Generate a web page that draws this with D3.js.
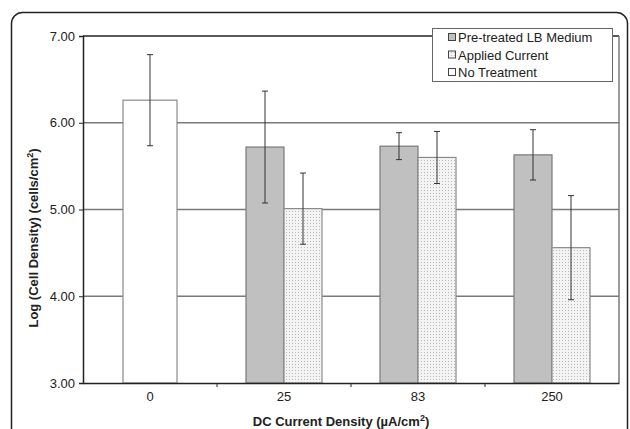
<!DOCTYPE html>
<html><head><meta charset="utf-8">
<script src="https://cdn.jsdelivr.net/npm/d3@7"></script>
<style>body{margin:0;background:#fff;}svg{display:block;font-family:"Liberation Sans",Arial,sans-serif;}</style>
</head><body>
<script>
const categories = ["0", "25", "83", "250"];
const seriesNames = ["Pre-treated LB Medium", "Applied Current", "No Treatment"];
const pretreated = [null, 5.72, 5.73, 5.63];
const pretreatedErr = [null, 0.645, 0.155, 0.29];
const applied = [null, 5.01, 5.60, 4.56];
const appliedErr = [null, 0.41, 0.30, 0.60];
const noTreatment = [6.26, null, null, null];
const noTreatmentErr = [0.525, null, null, null];
const yTicks = [3, 4, 5, 6, 7];

const W = 630, H = 429;
const svg = d3.select("body").append("svg").attr("width", W).attr("height", H);
const defs = svg.append("defs");
const pat = defs.append("pattern").attr("id","dots").attr("patternUnits","userSpaceOnUse").attr("width",3).attr("height",3);
pat.append("rect").attr("width",3).attr("height",3).attr("fill","#f4f4f4");
pat.append("rect").attr("x",1).attr("y",1).attr("width",1).attr("height",1).attr("fill","#b8b8b8");

// outer rounded border
svg.append("rect").attr("x",11.5).attr("y",12.5).attr("width",616).attr("height",440).attr("rx",11)
  .attr("fill","none").attr("stroke","#222").attr("stroke-width",1.5);

const pL = 83, pR = 619, pT = 36, pB = 383;
const x = d3.scaleBand().domain(categories).range([pL, pR]);
const y = d3.scaleLinear().domain([3, 7]).range([pB, pT]);

// gridlines
svg.append("g").selectAll("line").data(yTicks.filter(v => v > 3 && v < 7)).join("line")
  .attr("x1", pL).attr("x2", pR).attr("y1", d => y(d)).attr("y2", d => y(d))
  .attr("stroke","#7a7a7a").attr("stroke-width",1.5);

// bars
const rows = [];
categories.forEach((c, i) => {
  if (noTreatment[i] != null) rows.push({c, v: noTreatment[i], e: noTreatmentErr[i], off: -27, w: 54, fill: "#fff", stroke: "#8a8a8a"});
  if (pretreated[i] != null) rows.push({c, v: pretreated[i], e: pretreatedErr[i], off: -38, w: 38, fill: "#c0c0c0", stroke: "#7a7a7a"});
  if (applied[i] != null) rows.push({c, v: applied[i], e: appliedErr[i], off: 0, w: 38, fill: "url(#dots)", stroke: "#8a8a8a"});
});
const cx = d => x(d.c) + x.bandwidth() / 2 + d.off;
svg.append("g").selectAll("rect").data(rows).join("rect")
  .attr("x", d => cx(d)).attr("width", d => d.w)
  .attr("y", d => y(d.v)).attr("height", d => y(3) - y(d.v))
  .attr("fill", d => d.fill).attr("stroke", d => d.stroke).attr("stroke-width", 1.2);

// error bars
const eb = svg.append("g").attr("stroke","#333").attr("stroke-width",1);
rows.forEach(d => {
  const m = cx(d) + d.w / 2;
  eb.append("line").attr("x1", m).attr("x2", m).attr("y1", y(d.v + d.e)).attr("y2", y(d.v - d.e));
  [d.v + d.e, d.v - d.e].forEach(v => eb.append("line").attr("x1", m - 3).attr("x2", m + 3).attr("y1", y(v)).attr("y2", y(v)));
});

// plot frame: top and right
svg.append("line").attr("x1", pL).attr("x2", pR).attr("y1", pT).attr("y2", pT).attr("stroke","#222").attr("stroke-width",1.5);
svg.append("line").attr("x1", pR).attr("x2", pR).attr("y1", pT).attr("y2", pB).attr("stroke","#7a7a7a").attr("stroke-width",1.5);

// y axis
const yAxis = svg.append("g").attr("transform", `translate(${pL},0)`)
  .call(d3.axisLeft(y).tickValues(yTicks).tickFormat(d3.format(".2f")).tickSize(4).tickPadding(4));
yAxis.select(".domain").attr("stroke","#222").attr("stroke-width",1.5);
yAxis.selectAll(".tick line").attr("stroke","#222");
yAxis.selectAll("text").attr("font-size",13).attr("fill","#222").attr("font-family","Liberation Sans, Arial, sans-serif");

// x axis
const xAxis = svg.append("g").attr("transform", `translate(0,${pB})`)
  .call(d3.axisBottom(x).tickSize(0).tickPadding(9));
xAxis.select(".domain").attr("stroke","#222").attr("stroke-width",1.5);
xAxis.selectAll("text").attr("font-size",13).attr("fill","#222").attr("font-family","Liberation Sans, Arial, sans-serif");
svg.append("g").selectAll("line").data(categories.slice(1)).join("line")
  .attr("x1", d => x(d)).attr("x2", d => x(d)).attr("y1", pB).attr("y2", pB + 4)
  .attr("stroke","#222");

// axis titles
const xt = svg.append("text").attr("x", (pL + pR) / 2 - 10).attr("y", 426)
  .attr("text-anchor","middle").attr("font-size",13).attr("font-weight","bold").attr("fill","#222");
xt.append("tspan").text("DC Current Density (µA/cm");
xt.append("tspan").attr("font-size",9).attr("dy",-5).text("2");
xt.append("tspan").attr("dy",5).text(")");

const yt = svg.append("text").attr("transform", "translate(38,238) rotate(-90)")
  .attr("text-anchor","middle").attr("font-size",13).attr("font-weight","bold").attr("fill","#222");
yt.append("tspan").text("Log (Cell Density) (cells/cm");
yt.append("tspan").attr("font-size",9).attr("dy",-5).text("2");
yt.append("tspan").attr("dy",5).text(")");

// legend
const lg = svg.append("g");
lg.append("rect").attr("x",432.5).attr("y",28.5).attr("width",180).attr("height",53)
  .attr("fill","#fff").attr("stroke","#666").attr("stroke-width",1);
const lfills = ["#c0c0c0", "url(#dots)", "#fff"];
seriesNames.forEach((n, i) => {
  const yy = 37 + i * 17.5;
  lg.append("rect").attr("x",448.5).attr("y",yy - 3.5).attr("width",7).attr("height",7)
    .attr("fill", lfills[i]).attr("stroke","#444").attr("stroke-width",1);
  lg.append("text").attr("x",458).attr("y",yy + 5).attr("font-size",13).attr("fill","#222").text(n);
});
</script>
</body></html>
